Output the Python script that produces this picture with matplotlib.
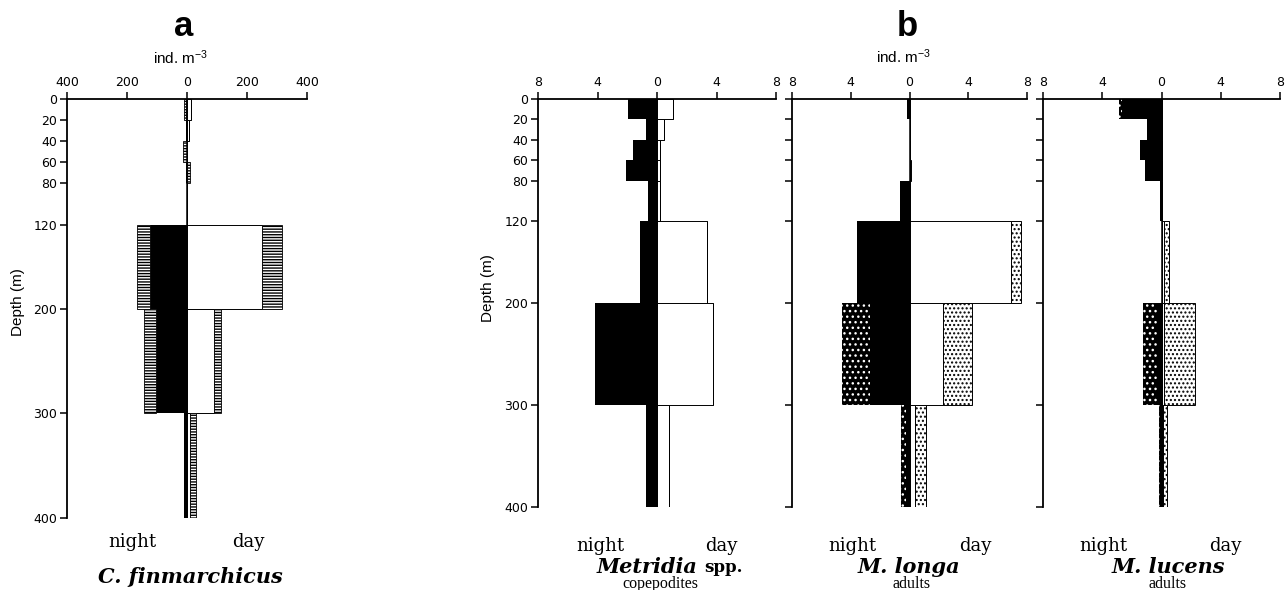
import matplotlib.pyplot as plt

plt.rcParams['mathtext.default'] = 'regular'

# depth strata (m)
depth_top = [0, 20, 40, 60, 80, 120, 200, 300]
depth_bottom = [20, 40, 60, 80, 120, 200, 300, 400]
depth_ticks = [0, 20, 40, 60, 80, 120, 200, 300, 400]

# C. finmarchicus (ind. m-3): night / day, two stage groups each
cfin_night_solid = [4, 4, 0, 2, 0, 123, 103, 10]
cfin_night_hatch = [5, 0, 13, 0, 0, 43, 39, 0]
cfin_day_open = [14, 6, 0, 0, 0, 251, 91, 11]
cfin_day_hatch = [0, 0, 0, 9, 0, 66, 22, 18]

# Metridia spp. copepodites
met_night = [1.95, 0.73, 1.6, 2.1, 0.6, 1.16, 4.16, 0.73]
met_day = [1.1, 0.44, 0.22, 0.22, 0.22, 3.37, 3.78, 0.84]
met_none = [0, 0, 0, 0, 0, 0, 0, 0]

# M. longa adults
longa_night_solid = [0.15, 0, 0, 0, 0.66, 3.57, 2.66, 0.27]
longa_night_dot = [0, 0, 0, 0, 0, 0, 1.94, 0.33]
longa_day_open = [0, 0, 0, 0, 0, 6.9, 2.3, 0.36]
longa_day_dot = [0, 0, 0, 0.1, 0, 0.7, 1.93, 0.74]

# M. lucens adults
lucens_night_solid = [2.67, 0.96, 1.44, 1.1, 0.1, 0, 0.3, 0.1]
lucens_night_dot = [0.2, 0, 0, 0, 0, 0, 0.96, 0.1]
lucens_day_open = [0, 0, 0, 0, 0, 0.15, 0.2, 0.1]
lucens_day_dot = [0, 0, 0, 0, 0, 0.35, 2.08, 0.3]

cfin_xticks = [-400, -200, 0, 200, 400]
cfin_xlabels = ["400", "200", "0", "200", "400"]
met_xticks = [-8, -4, 0, 4, 8]
met_xlabels = ["8", "4", "0", "4", "8"]

thick = [b - t for t, b in zip(depth_top, depth_bottom)]

W, H = 1285, 590
fig = plt.figure(figsize=(W / 100, H / 100), dpi=100)


def px_axes(x0, x1, y0, y1):
    return fig.add_axes([x0 / W, 1 - y1 / H, (x1 - x0) / W, (y1 - y0) / H])


def draw_profile(ax, night_a, night_b, day_a, day_b, xmax, xticks, xlabels, style):
    neg_a = [-v for v in night_a]
    neg_b = [-v for v in night_b]
    if style == "lines":
        nb_kw = dict(facecolor="white", edgecolor="black", hatch="------", lw=0.6)
        db_kw = dict(facecolor="white", edgecolor="black", hatch="------", lw=0.6)
    else:
        nb_kw = dict(facecolor="black", edgecolor="white", hatch="...", lw=0)
        db_kw = dict(facecolor="white", edgecolor="black", hatch="....", lw=0.7)
    ax.barh(depth_top, neg_a, height=thick, align="edge", color="black", lw=0)
    ax.barh(depth_top, neg_b, left=neg_a, height=thick, align="edge", **nb_kw)
    ax.barh(depth_top, day_a, height=thick, align="edge",
            facecolor="white", edgecolor="black", lw=0.7)
    ax.barh(depth_top, day_b, left=day_a, height=thick, align="edge", **db_kw)
    ax.axvline(0, color="black", lw=1.1)

    ax.set_xlim(-xmax, xmax)
    ax.set_ylim(400, 0)
    ax.spines[["right", "bottom"]].set_visible(False)
    for s in ("top", "left"):
        ax.spines[s].set_linewidth(1.3)
    ax.xaxis.set_ticks_position("top")
    ax.set_xticks(xticks, labels=xlabels)
    ax.set_yticks(depth_ticks)
    ax.tick_params(direction="out", length=5, width=1.1, labelsize=9, pad=2)
    ax.patch.set_visible(False)


ax_a = px_axes(67, 307, 99, 518)
draw_profile(ax_a, cfin_night_solid, cfin_night_hatch, cfin_day_open, cfin_day_hatch,
             400, cfin_xticks, cfin_xlabels, "lines")

ax_b1 = px_axes(538, 776, 99, 507)
draw_profile(ax_b1, met_night, met_none, met_day, met_none,
             8, met_xticks, met_xlabels, "dots")

ax_b2 = px_axes(792, 1027, 99, 507)
draw_profile(ax_b2, longa_night_solid, longa_night_dot, longa_day_open, longa_day_dot,
             8, met_xticks, met_xlabels, "dots")
ax_b2.tick_params(labelleft=False)

ax_b3 = px_axes(1043, 1280, 99, 507)
draw_profile(ax_b3, lucens_night_solid, lucens_night_dot, lucens_day_open, lucens_day_dot,
             8, met_xticks, met_xlabels, "dots")
ax_b3.tick_params(labelleft=False)

sans = "Liberation Sans"
serif = "DejaVu Serif"


def ftext(x, y, s, **kw):
    fig.text(x / W, 1 - y / H, s, ha="center", va="center", **kw)


# panel letters and unit labels
ftext(184, 26, "a", family=sans, fontsize=25, fontweight="bold")
ftext(907, 27, "b", family=sans, fontsize=25, fontweight="bold")
ftext(181, 58, "ind. m$^{-3}$", family=sans, fontsize=11)
ftext(904, 57, "ind. m$^{-3}$", family=sans, fontsize=11)
ftext(18, 302, "Depth (m)", family=sans, fontsize=11, rotation=90)
ftext(488, 288, "Depth (m)", family=sans, fontsize=11, rotation=90)

# night / day captions
for xn, xd, y in [(132, 248, 542), (600, 721, 546), (852, 975, 546), (1103, 1225, 546)]:
    ftext(xn, y, "night", family=serif, fontsize=13)
    ftext(xd, y, "day", family=serif, fontsize=13)

# species names
ftext(190, 577, "C. finmarchicus", family=serif, fontsize=15,
      fontweight="bold", fontstyle="italic")
fig.text(697 / W, 1 - 567 / H, "Metridia", ha="right", va="center", family=serif,
         fontsize=15, fontweight="bold", fontstyle="italic")
fig.text(704 / W, 1 - 567 / H, "spp.", ha="left", va="center", family=serif,
         fontsize=12, fontweight="bold")
ftext(660, 584, "copepodites", family="Liberation Serif", fontsize=11.5)
ftext(912, 584, "adults", family="Liberation Serif", fontsize=11.5)
ftext(1168, 584, "adults", family="Liberation Serif", fontsize=11.5)
ftext(909, 567, "M. longa", family=serif, fontsize=15,
      fontweight="bold", fontstyle="italic")
ftext(1168, 567, "M. lucens", family=serif, fontsize=15,
      fontweight="bold", fontstyle="italic")

fig.savefig("out.png", dpi=100)
